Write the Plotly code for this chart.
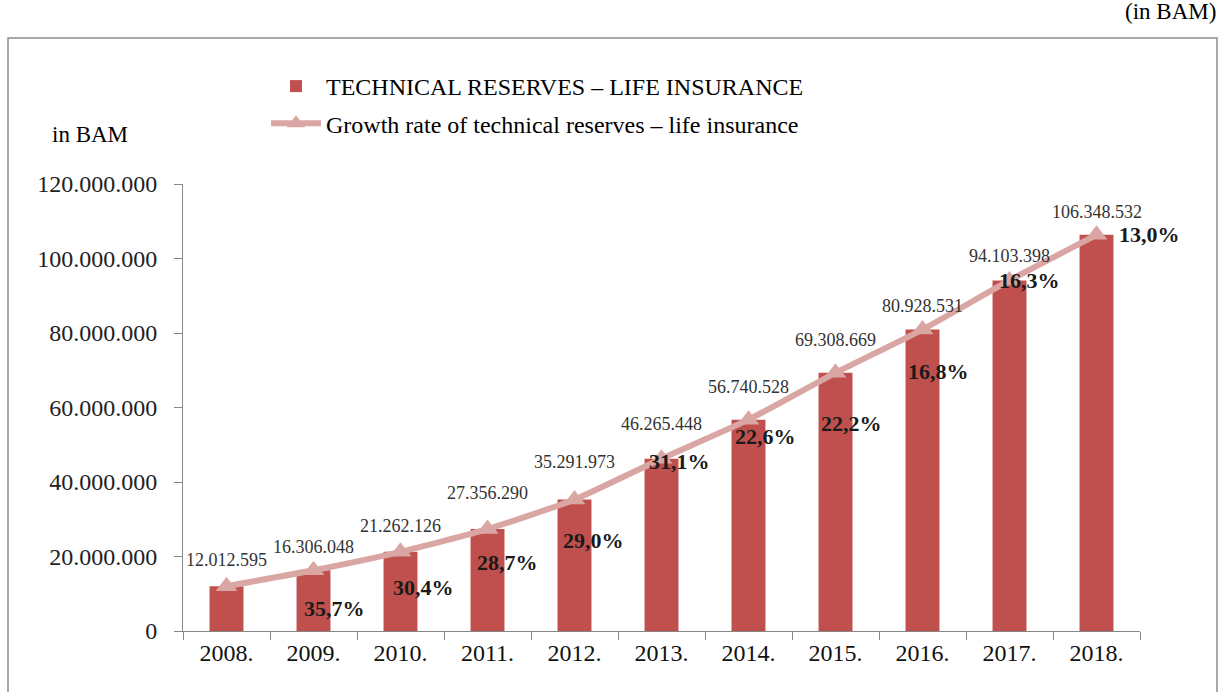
import plotly.graph_objects as go

# Technical reserves for life insurance, in BAM
years = ["2008.", "2009.", "2010.", "2011.", "2012.", "2013.",
         "2014.", "2015.", "2016.", "2017.", "2018."]
reserves = [12012595, 16306048, 21262126, 27356290, 35291973, 46265448,
            56740528, 69308669, 80928531, 94103398, 106348532]
growth_labels = [None, "35,7%", "30,4%", "28,7%", "29,0%", "31,1%",
                 "22,6%", "22,2%", "16,8%", "16,3%", "13,0%"]
y_ticks = [0, 20000000, 40000000, 60000000, 80000000, 100000000, 120000000]

# label placement (pixels relative to each point)
value_dy = [26, 23, 26, 36, 38, 35, 33, 33, 24, 24, 23]
pct_dx = [0, 21, 23, 20, 19, 18, 17, 16, 16, 20, 53]
pct_dy = [0, 38, 36, 33, 41, 3, 17, 51, 42, 0, 0]

BAR = "#C0504D"
LINE = "#D9A6A4"
SERIF = "Liberation Serif, Times New Roman, serif"


def fmt(v):
    return f"{v:,}".replace(",", ".")


fig = go.Figure()
fig.add_trace(go.Bar(
    x=years, y=reserves, name="TECHNICAL RESERVES – LIFE INSURANCE",
    marker=dict(color=BAR, line=dict(width=0)), width=0.39,
    legendgroup="a",
))
fig.add_trace(go.Scatter(
    x=years, y=reserves, mode="lines+markers",
    name="Growth rate of technical reserves – life insurance",
    line=dict(color=LINE, width=6, shape="spline", smoothing=0.5),
    marker=dict(symbol="triangle-up", size=19, color=LINE),
    legendgroup="b",
))

annotations = []
for i, v in enumerate(reserves):
    # category axis: annotations are placed by category index
    annotations.append(dict(
        x=i, y=v, xref="x", yref="y", text=fmt(v), showarrow=False,
        yshift=value_dy[i], font=dict(family=SERIF, size=18, color="#333333"),
    ))
    if growth_labels[i]:
        annotations.append(dict(
            x=i, y=v, xref="x", yref="y", text=f"<b>{growth_labels[i]}</b>",
            showarrow=False, xshift=pct_dx[i], yshift=-pct_dy[i],
            font=dict(family=SERIF, size=22, color="#1a1a1a"),
        ))

# unit captions
annotations.append(dict(
    x=(130 - 183) / 957, y=(631 - 135) / 447, xref="paper", yref="paper",
    xanchor="right", yanchor="middle", text="in BAM", showarrow=False,
    font=dict(family=SERIF, size=23, color="#000000"),
))
annotations.append(dict(
    x=(1218 - 183) / 957, y=(631 - 12) / 447, xref="paper", yref="paper",
    xanchor="right", yanchor="middle", text="(in BAM)", showarrow=False,
    font=dict(family=SERIF, size=23, color="#000000"),
))

axis_color = "#868686"
fig.update_layout(
    width=1222, height=692,
    margin=dict(l=183, r=82, t=184, b=61),
    paper_bgcolor="white", plot_bgcolor="white",
    bargap=0.61,
    showlegend=True,
    legend=dict(
        x=(266 - 183) / 957, y=(631 - 64) / 447, xanchor="left", yanchor="top",
        font=dict(family=SERIF, size=24, color="#000000"),
        traceorder="grouped", tracegroupgap=3, itemwidth=50,
        bgcolor="rgba(0,0,0,0)",
    ),
    xaxis=dict(
        type="category", showgrid=False, showline=True, linecolor=axis_color,
        linewidth=1, ticks="outside", tickson="boundaries", ticklen=8,
        tickcolor=axis_color, tickfont=dict(family=SERIF, size=24, color="#111111"),
        range=[-0.5, 10.5],
    ),
    yaxis=dict(
        range=[0, 120000000], tickvals=y_ticks,
        ticktext=[fmt(t) for t in y_ticks], showgrid=False, zeroline=False,
        showline=True, linecolor=axis_color, linewidth=1, ticks="outside",
        ticklen=8, tickcolor=axis_color, ticklabelstandoff=12,
        tickfont=dict(family=SERIF, size=24, color="#222222"),
    ),
    annotations=annotations,
    shapes=[dict(
        type="rect", xref="paper", yref="paper",
        x0=(8 - 183) / 957, x1=(1217 - 183) / 957,
        y0=(631 - 710) / 447, y1=(631 - 38) / 447,
        line=dict(color="#8c8c8c", width=1.5), layer="below",
    )],
)

fig.write_html("out.html")
